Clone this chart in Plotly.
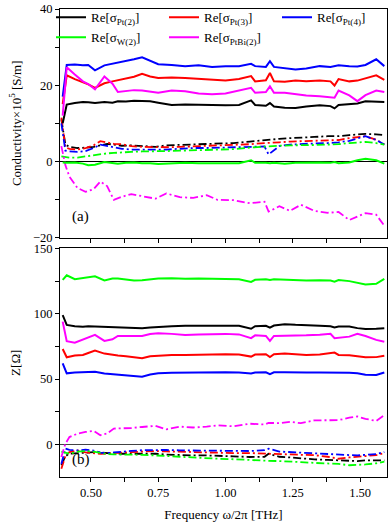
import plotly.graph_objects as go

# frequency grids (THz)
freq_re = [0.395, 0.41, 0.44, 0.47, 0.49, 0.515, 0.55, 0.58, 0.60, 0.63, 0.66, 0.69, 0.72, 0.75,
           0.80, 0.85, 0.90, 0.95, 1.00, 1.05, 1.095, 1.11, 1.15, 1.165, 1.18, 1.22, 1.26, 1.30,
           1.35, 1.39, 1.405, 1.42, 1.46, 1.49, 1.52, 1.56, 1.59]
freq_im = [0.39, 0.405, 0.42, 0.45, 0.48, 0.51, 0.535, 0.56, 0.585, 0.615, 0.65, 0.69, 0.74, 0.78,
           0.83, 0.88, 0.93, 0.97, 1.03, 1.09, 1.145, 1.16, 1.2, 1.24, 1.28, 1.33, 1.38, 1.42,
           1.46, 1.49, 1.52, 1.56, 1.59]

# (a) conductivity x1e5 S/m, real parts (solid)
sig_re_pt2 = [10, 14.9, 15.3, 15.6, 15.5, 15.3, 15.6, 15.4, 15.8, 15.7, 15.9, 15.8, 15.8, 15.4,
              14.8, 14.9, 14.8, 14.8, 14.7, 14.8, 16.0, 14.8, 14.6, 15.3, 14.4, 14.1, 14.0, 14.4,
              14.7, 14.5, 13.9, 14.8, 15.0, 15.2, 15.8, 15.7, 15.6]
sig_re_pt3 = [15, 22.6, 21.6, 20.8, 20.2, 19.3, 20.5, 21.0, 21.3, 21.8, 22.2, 23.0, 22.3, 21.9,
              22.0, 21.9, 21.7, 21.4, 21.2, 21.6, 22.4, 21.0, 21.3, 23.2, 21.0, 20.9, 21.2, 21.0,
              21.2, 21.0, 19.9, 21.6, 21.0, 21.2, 21.8, 22.6, 21.4]
sig_re_pt4 = [17, 25.3, 25.4, 25.2, 25.3, 23.9, 25.2, 25.6, 26.0, 26.4, 26.8, 27.3, 26.5, 25.5,
              25.3, 25.0, 25.2, 24.8, 25.0, 25.0, 25.6, 25.0, 24.8, 26.3, 24.8, 24.5, 24.1, 24.4,
              25.0, 24.8, 25.0, 25.2, 25.0, 24.9, 25.3, 26.8, 25.0]
sig_re_w2 = [-0.3, -0.4, -0.3, -0.6, -1.0, -0.9, -0.2, -0.5, -0.6, -0.4, -0.3, -0.5, -0.5, -0.7,
             -0.6, -0.4, -0.5, -0.5, -0.4, -0.5, 0.3, -0.4, -0.4, -0.5, -0.4, -0.6, -0.4, -0.3,
             -0.3, -0.4, -0.2, -0.5, -0.3, 0.3, 0.7, 0.3, -0.6]
sig_re_ptbi2 = [12, 24.7, 22.8, 21.0, 20.3, 18.9, 22.3, 20.4, 18.2, 18.5, 18.7, 18.6, 18.3, 18.0,
                18.6, 18.4, 17.8, 17.6, 17.8, 18.6, 19.3, 18.0, 18.2, 19.7, 18.0, 18.0, 17.6, 17.3,
                17.1, 16.9, 16.7, 18.6, 17.3, 15.8, 17.4, 18.6, 18.2]

# (a) imaginary parts (dash-dot)
sig_im_pt2 = [11, 4.4, 3.8, 3.5, 3.6, 3.8, 4.2, 4.6, 4.4, 4.1, 4.2, 4.0, 3.8, 4.2, 4.3, 4.5, 4.6,
              4.7, 4.8, 5.2, 5.6, 5.8, 5.9, 6.1, 6.3, 6.4, 6.6, 6.6, 6.9, 7.1, 7.2, 7.1, 6.9]
sig_im_pt3 = [11.5, 3.7, 3.3, 3.1, 3.5, 4.2, 5.3, 5.0, 4.6, 4.5, 4.0, 3.8, 3.7, 3.7, 3.8, 3.9, 4.0,
              4.1, 4.2, 4.5, 4.8, 4.9, 5.0, 5.2, 5.3, 5.3, 5.4, 5.6, 6.1, 6.3, 6.6, 5.7, 4.4]
sig_im_pt4 = [10, 2.8, 2.6, 2.5, 2.7, 3.5, 4.4, 4.0, 3.6, 3.3, 3.1, 3.1, 3.1, 3.1, 3.3, 3.5, 3.5,
              3.6, 3.7, 3.8, 3.9, 1.8, 4.0, 4.4, 4.6, 4.7, 4.8, 5.0, 5.4, 6.0, 6.6, 5.6, 4.4]
sig_im_w2 = [1.3, 1.2, 1.0, 1.0, 1.3, 1.6, 1.9, 2.1, 2.2, 2.4, 2.5, 2.6, 2.6, 2.7, 2.8, 2.9, 3.0,
             3.1, 3.2, 3.6, 3.9, 4.0, 4.1, 4.2, 4.2, 4.3, 4.4, 4.5, 4.8, 5.0, 5.1, 4.8, 4.4]
sig_im_ptbi2 = [4, -1.0, -4.0, -7.0, -8.0, -7.3, -5.3, -6.5, -10.1, -9.3, -8.6, -9.2, -9.8, -8.4,
                -9.4, -9.6, -8.9, -10.1, -10.2, -11.0, -10.6, -13.2, -11.8, -13.0, -11.4, -13.0,
                -13.5, -13.3, -15.4, -14.5, -13.6, -14.0, -16.9]

# (b) impedance (Ohm), real parts (solid)
z_re_pt2 = [99.0, 91.5, 90.5, 90.0, 90.5, 90.3, 89.8, 90.0, 89.5, 89.3, 89.0, 89.0, 89.5, 90.0,
            90.5, 90.8, 90.8, 90.8, 91.0, 90.8, 88.5, 90.5, 90.8, 89.3, 91.0, 92.0, 91.5, 91.0,
            90.8, 90.5, 89.5, 90.3, 90.3, 89.0, 88.3, 88.5, 89.0]
z_re_pt3 = [73.0, 66.7, 68.0, 68.5, 70.0, 71.8, 69.5, 68.5, 68.0, 67.5, 66.8, 66.0, 67.5, 68.0,
            68.5, 68.5, 68.8, 69.0, 69.0, 68.8, 67.2, 68.8, 69.0, 66.8, 69.0, 69.5, 68.8, 68.5,
            68.8, 69.5, 70.3, 68.5, 68.3, 67.5, 66.7, 66.8, 67.9]
z_re_pt4 = [62.0, 54.4, 55.0, 55.3, 55.0, 55.6, 54.3, 53.8, 53.1, 52.5, 52.2, 51.8, 53.5, 54.4,
            54.8, 55.0, 55.2, 55.4, 55.2, 55.0, 54.2, 55.0, 55.2, 53.7, 55.2, 55.3, 55.0, 55.0,
            55.0, 55.0, 55.2, 55.0, 54.8, 54.5, 53.3, 53.1, 55.0]
z_re_w2 = [126.0, 129.5, 126.5, 127.5, 128.0, 128.7, 125.5, 127.0, 127.0, 126.2, 125.4, 125.6,
           126.5, 127.0, 127.2, 126.8, 127.0, 127.0, 126.7, 126.5, 124.4, 126.0, 126.5, 125.8,
           126.5, 126.0, 125.6, 125.4, 125.6, 125.4, 124.6, 125.8, 125.0, 124.0, 122.5, 123.0, 126.7]
z_re_ptbi2 = [94.0, 79.0, 77.8, 80.0, 81.5, 83.8, 79.2, 80.5, 83.0, 83.0, 83.2, 83.0, 84.5, 85.1,
              84.6, 83.8, 84.2, 84.4, 84.6, 84.2, 81.3, 83.5, 83.0, 79.2, 83.0, 83.1, 83.1, 83.5,
              84.0, 84.6, 81.3, 81.5, 82.5, 84.6, 83.0, 80.0, 78.5]

# (b) imaginary parts (dash-dot)
z_im_pt2 = [-16, -9, -7.2, -6.7, -6.0, -5.9, -6.3, -6.8, -7.0, -7.2, -7.2, -7.2, -7.2, -7.8, -8.3,
            -8.5, -8.5, -8.6, -9.2, -9.7, -9.5, -7.2, -9.5, -10.0, -10.8, -11.5, -11.9, -12.3,
            -12.8, -12.8, -12.3, -12.0, -12.3]
z_im_pt3 = [-18.7, -9, -6.0, -4.6, -6.2, -6.9, -7.2, -7.0, -6.8, -6.7, -6.0, -5.5, -5.1, -5.4,
            -5.9, -5.9, -6.2, -6.6, -6.7, -6.7, -6.9, -7.2, -7.4, -7.7, -8.0, -8.3, -9.5, -11.0,
            -10.0, -9.7, -9.0, -8.2, -6.7]
z_im_pt4 = [-15, -3.3, -4.2, -4.6, -4.1, -4.8, -6.4, -6.7, -6.2, -5.9, -5.0, -4.5, -4.1, -4.3,
            -4.6, -4.7, -4.9, -5.1, -5.1, -5.1, -4.5, -3.3, -5.5, -5.9, -6.2, -6.5, -7.0, -7.3,
            -8.0, -8.5, -8.0, -7.5, -5.9]
z_im_w2 = [-5.5, -6.5, -7.2, -5.6, -5.1, -5.6, -6.5, -7.5, -7.7, -7.7, -7.8, -8.0, -8.5, -9.0,
           -9.5, -10.0, -10.8, -11.0, -11.4, -12.2, -12.5, -12.6, -12.8, -13.0, -13.6, -14.2,
           -14.6, -15.0, -16.0, -15.8, -15.4, -14.5, -13.3]
z_im_ptbi2 = [-9.7, 0.5, 5.6, 8.2, 9.5, 10.3, 7.0, 8.3, 12.1, 12.1, 12.5, 13.3, 14.2, 11.5, 13.6,
              12.9, 13.5, 14.6, 13.8, 15.8, 15.2, 16.5, 16.2, 17.3, 16.2, 18.4, 18.5, 18.5, 20.5,
              21.3, 19.5, 18.0, 22.3]

names = ["Re[σ<sub>Pt(2)</sub>]", "Re[σ<sub>Pt(3)</sub>]", "Re[σ<sub>Pt(4)</sub>]",
         "Re[σ<sub>W(2)</sub>]", "Re[σ<sub>PtBi(2)</sub>]"]
colors = ["#000000", "#ff0000", "#0000ff", "#00ff00", "#ff00ff"]

sig_re = [sig_re_pt2, sig_re_pt3, sig_re_pt4, sig_re_w2, sig_re_ptbi2]
sig_im = [sig_im_pt2, sig_im_pt3, sig_im_pt4, sig_im_w2, sig_im_ptbi2]
z_re = [z_re_pt2, z_re_pt3, z_re_pt4, z_re_w2, z_re_ptbi2]
z_im = [z_im_pt2, z_im_pt3, z_im_pt4, z_im_w2, z_im_ptbi2]

FONT = "Liberation Serif, Times New Roman, serif"
DASHDOT = "8px,3px,2px,3px"

fig = go.Figure()

for i in range(5):
    fig.add_trace(go.Scatter(x=freq_im, y=sig_im[i], mode="lines", showlegend=False,
                             line=dict(color=colors[i], width=1.8, dash=DASHDOT),
                             xaxis="x", yaxis="y"))
    fig.add_trace(go.Scatter(x=freq_im, y=z_im[i], mode="lines", showlegend=False,
                             line=dict(color=colors[i], width=1.8, dash=DASHDOT),
                             xaxis="x2", yaxis="y2"))
for i in range(5):
    fig.add_trace(go.Scatter(x=freq_re, y=sig_re[i], mode="lines", name=names[i],
                             line=dict(color=colors[i], width=2),
                             xaxis="x", yaxis="y"))
    fig.add_trace(go.Scatter(x=freq_re, y=z_re[i], mode="lines", showlegend=False,
                             line=dict(color=colors[i], width=2),
                             xaxis="x2", yaxis="y2"))

axis_common = dict(showline=True, linecolor="black", linewidth=1, mirror=True,
                   ticks="outside", ticklen=4, tickcolor="black", showgrid=False,
                   automargin=False,
                   tickfont=dict(family=FONT, size=12.5, color="black"))

xr = [0.385, 1.6]
fig.update_layout(
    width=390, height=527,
    margin=dict(l=60, r=3, t=8, b=50),
    paper_bgcolor="white", plot_bgcolor="white",
    font=dict(family=FONT, size=13, color="black"),
    xaxis=dict(domain=[0, 1], anchor="y", range=xr, showticklabels=False,
               tickvals=[0.5, 0.75, 1.0, 1.25, 1.5],
               minor=dict(tickvals=[0.625, 0.875, 1.125, 1.375], ticklen=4, ticks="outside",
                          tickcolor="black"),
               zeroline=False, **axis_common),
    yaxis=dict(domain=[0.5117, 1], anchor="x", range=[-20, 40], tickvals=[-20, 0, 20, 40],
               minor=dict(tickvals=[-10, 10, 30], ticklen=4, ticks="outside", tickcolor="black"),
               zeroline=True, zerolinecolor="black", zerolinewidth=1,
               title=dict(text="Conductivity×10<sup>5</sup> [S/m]", standoff=8,
                          font=dict(family=FONT, size=13)),
               **axis_common),
    xaxis2=dict(domain=[0, 1], anchor="y2", range=xr,
                tickvals=[0.5, 0.75, 1.0, 1.25, 1.5],
                ticktext=["0.50", "0.75", "1.00", "1.25", "1.50"],
                minor=dict(tickvals=[0.625, 0.875, 1.125, 1.375], ticklen=4, ticks="outside",
                           tickcolor="black"),
                zeroline=False,
                title=dict(text="Frequency ω/2π [THz]", standoff=10,
                           font=dict(family=FONT, size=13)),
                **axis_common),
    yaxis2=dict(domain=[0, 0.4883], anchor="x2", range=[-25, 150], tickvals=[0, 50, 100, 150],
                minor=dict(tickvals=[25, 75, 125], ticklen=4, ticks="outside", tickcolor="black"),
                zeroline=True, zerolinecolor="#444444", zerolinewidth=1,
                title=dict(text="Z[Ω]", standoff=10, font=dict(family=FONT, size=13)),
                **axis_common),
    legend=dict(orientation="h", x=-0.01, y=1.012, xref="paper", yref="paper",
                xanchor="left", yanchor="top", entrywidth=68, entrywidthmode="pixels",
                bgcolor="rgba(0,0,0,0)", font=dict(family=FONT, size=13),
                tracegroupgap=0, itemwidth=30),
    annotations=[
        dict(text="(a)", xref="paper", yref="paper", x=0.03, y=0.535, xanchor="left",
             yanchor="bottom", showarrow=False, font=dict(family=FONT, size=15)),
        dict(text="(b)", xref="paper", yref="paper", x=0.03, y=0.015, xanchor="left",
             yanchor="bottom", showarrow=False, font=dict(family=FONT, size=15)),
    ],
)

# drop the default page margin so the figure sits at the window's corner
fig.write_html("out.html", config={"displayModeBar": False},
               post_script="document.body.style.margin='0';")
